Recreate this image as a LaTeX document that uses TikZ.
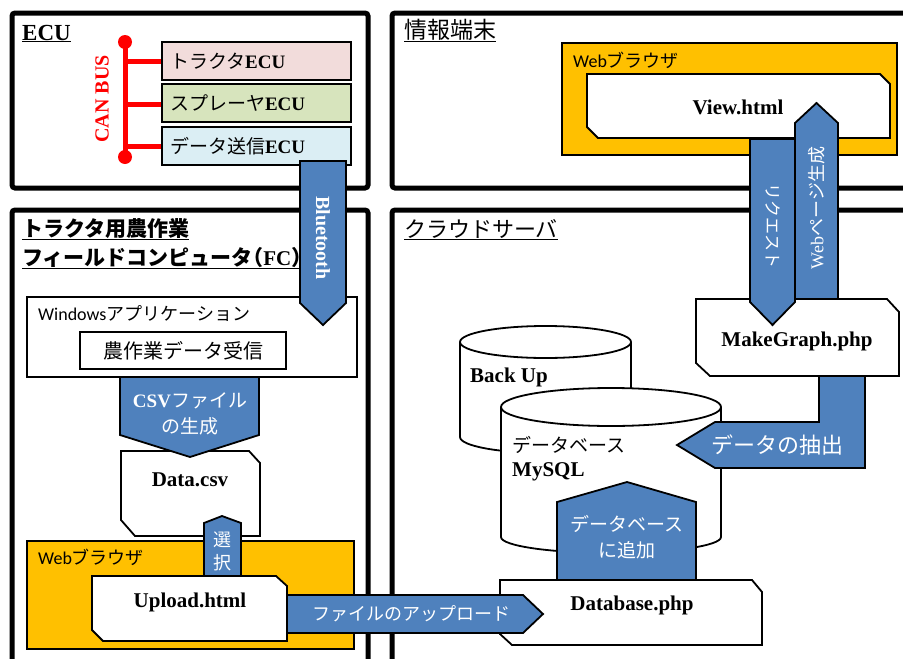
\documentclass[tikz,border=0pt]{standalone}
\usepackage{fontspec}
\setmainfont{Liberation Serif}
\newfontfamily\jp{Noto Sans CJK JP}
\newfontfamily\calfont{Carlito}
\definecolor{arrowblue}{HTML}{4F81BD}
\definecolor{webor}{HTML}{FFC000}
\definecolor{ecupink}{HTML}{F2DCDB}
\definecolor{ecugreen}{HTML}{D7E4BD}
\definecolor{ecublue}{HTML}{DBEEF4}
\newcommand{\fs}[1]{\fontsize{#1}{#1}\selectfont}
\begin{document}
\begin{tikzpicture}[x=1pt,y=-1pt,
 panel/.style={draw=black, line width=5pt, fill=white, rounded corners=3pt},
 box/.style={draw=black, line width=1.8pt, fill=white, line join=miter},
 orbox/.style={draw=black, line width=1.8pt, fill=webor},
 ecubox/.style={draw=black, line width=1.8pt, minimum width=189pt, minimum height=38pt, text width=173pt, align=left, inner sep=0pt, font=\fs{19}},
 barrow/.style={draw=black, line width=1.8pt, fill=arrowblue, line join=miter},
 wtxt/.style={text=white, font=\jp\fs{19}, inner sep=0pt},
 btxt/.style={font=\bfseries\fs{21}, inner sep=0pt},
 title/.style={anchor=base west, inner sep=0pt, font=\jp\fs{23}},
 plain/.style={inner sep=0pt, font=\jp\fs{18}},
 canline/.style={draw=red, line width=5pt}
]
\path[use as bounding box] (0,0) rectangle (903,659);
\clip (0,0) rectangle (903,659);

% panels
\draw[panel] (12,13) rectangle (368,188);
\draw[panel] (392,13) rectangle (925,188);
\draw[panel] (12,210) rectangle (368,690);
\draw[panel] (392,210) rectangle (925,690);

\node[title, font=\bfseries\fs{23}] (tecu) at (22,40) {\underline{ECU}};
\node[title] (tinfo) at (404,38) {\underline{情報端末}};
\node[title, font=\jp\bfseries\fs{21}] (tfc1) at (22,236) {\underline{トラクタ用農作業}};
\node[title, font=\jp\bfseries\fs{21}] (tfc2) at (22,265) {\underline{フィールドコンピュータ\kern-0.5em（{\rmfamily\bfseries FC}）\kern-0.6em}};
\node[title, font=\jp\fs{22}] (tcloud) at (404,237) {\underline{クラウドサーバ}};

% CAN bus
\draw[canline] (125,42) -- (125,157);
\fill[red] (125,42) circle[radius=7pt];
\fill[red] (125,157) circle[radius=7pt];
\draw[canline] (125,61) -- (162,61);
\draw[canline] (125,104) -- (162,104);
\draw[canline] (125,146) -- (162,146);
\node[rotate=90, text=red, font=\bfseries\fs{20}, inner sep=0pt] (canbus) at (102,99) {CAN BUS};

% ECU boxes
\node[ecubox, fill=ecupink] (ecu1) at (256.5,61) {{\jp トラクタ}{\bfseries ECU}};
\node[ecubox, fill=ecugreen] (ecu2) at (256.5,103) {{\jp スプレーヤ}{\bfseries ECU}};
\node[ecubox, fill=ecublue] (ecu3) at (256.5,146) {{\jp データ送信}{\bfseries ECU}};

% Windows app
\node[box, minimum width=330pt, minimum height=80pt] (winapp) at (192,337) {};
\node[plain, anchor=west] (wintxt) at (38,314) {{\calfont Windows}アプリケーション};
\node[box, minimum width=206pt, minimum height=37pt, font=\jp\fs{20}, inner sep=0pt] (recv) at (183,350.5) {農作業データ受信};

% Data.csv
\draw[box] (121,451) -- (249,451) -- (260,463) -- (260,536) -- (135,536) -- (121,520) -- cycle;
\node[btxt] (datacsv) at (190,480) {Data.csv};

% CSV arrow
\draw[barrow] (120,377) -- (259,377) -- (259,435) -- (190,457) -- (120,435) -- cycle;
\node[wtxt] (csv1) at (190,401) {{\rmfamily\bfseries CSV}ファイル};
\node[wtxt] (csv2) at (190,426) {の生成};

% Web browser (FC)
\draw[orbox] (27,541) rectangle (354,649);
\node[plain, anchor=west] (web1) at (38,557) {{\calfont Web}ブラウザ};

% select arrow
\draw[barrow] (204,577) -- (204,523) -- (222,516) -- (241,523) -- (241,577) -- cycle;
\node[wtxt, font=\jp\fs{18}] (sel1) at (222,540) {選};
\node[wtxt, font=\jp\fs{18}] (sel2) at (222,563) {択};

% Upload.html
\draw[box] (92,576) -- (276,576) -- (287,586) -- (287,641) -- (103,641) -- (92,630) -- cycle;
\node[btxt] (upload) at (190,602) {Upload.html};

% Back Up cylinder
\fill[white] (460,342) -- (460,437) arc[start angle=180,end angle=360,x radius=85.5pt,y radius=16pt] -- (631,342) -- cycle;
\draw[line width=1.8pt] (460,342) -- (460,437) arc[start angle=180,end angle=360,x radius=85.5pt,y radius=16pt] -- (631,342);
\draw[box] (545.5,342) ellipse[x radius=85.5pt, y radius=16pt];
\node[btxt, anchor=west] (backup) at (470,377) {Back Up};

% MySQL cylinder
\fill[white] (501,407) -- (501,537) arc[start angle=180,end angle=360,x radius=110pt,y radius=16pt] -- (721,407) -- cycle;
\draw[line width=1.8pt] (501,407) -- (501,537) arc[start angle=180,end angle=360,x radius=110pt,y radius=16pt] -- (721,407);
\draw[box] (611,407) ellipse[x radius=110pt, y radius=19pt];
\node[plain, anchor=west, font=\jp\fs{19}] (dbtxt) at (512,445) {データベース};
\node[btxt, anchor=west] (mysql) at (512,472) {MySQL};

% Database.php
\draw[box] (500,580) -- (752,580) -- (762,592) -- (762,645) -- (512,645) -- (500,634) -- cycle;
\node[btxt] (dbphp) at (632,605) {Database.php};

% MakeGraph.php
\draw[box] (696,299) -- (887,299) -- (899,312) -- (899,376) -- (710,376) -- (696,363) -- cycle;
\node[btxt] (mkg) at (797,341) {MakeGraph.php};

% View browser
\draw[orbox] (562,43) rectangle (897,155);
\node[plain, anchor=west] (web2) at (573,60) {{\calfont Web}ブラウザ};
\draw[box] (587,74) -- (880,74) -- (890,84) -- (890,138) -- (598,138) -- (587,127) -- cycle;
\node[btxt] (view) at (738,107) {View.html};

% add to DB arrow
\draw[barrow] (557,580) -- (557,502) -- (627,482) -- (696,502) -- (696,580) -- cycle;
\node[wtxt] (add1) at (627,524) {データベース};
\node[wtxt] (add2) at (627,550) {に追加};

% upload arrow
\draw[barrow] (287,595) -- (523,595) -- (543,614) -- (523,633) -- (287,633) -- cycle;
\node[wtxt, font=\jp\fs{18}] (uptxt) at (411,614) {ファイルのアップロード};

% extract arrow
\draw[barrow] (819,376) -- (865,376) -- (865,468) -- (715,468) -- (677,445) -- (715,422) -- (819,422) -- cycle;
\node[wtxt, font=\jp\fs{22}] (extr) at (777,445) {データの抽出};

% request arrow
\draw[barrow] (750,139) -- (795,139) -- (795,302) -- (772.5,325) -- (750,302) -- cycle;
\node[wtxt, font=\jp\fs{17}, rotate=-90] (req) at (772.5,226) {リクエスト};

% web page generation arrow
\draw[barrow] (795,299) -- (795,123) -- (816.5,103) -- (838,123) -- (838,299) -- cycle;
\node[wtxt, font=\jp\fs{18}, rotate=90] (gen) at (816.5,208) {{\rmfamily Web}ページ生成};

% Bluetooth arrow
\draw[barrow] (300,161) -- (346,161) -- (346,303) -- (323,325) -- (300,303) -- cycle;
\node[wtxt, font=\bfseries\fs{20}, rotate=-90] (bt) at (323,238) {Bluetooth};
\end{tikzpicture}
\end{document}
